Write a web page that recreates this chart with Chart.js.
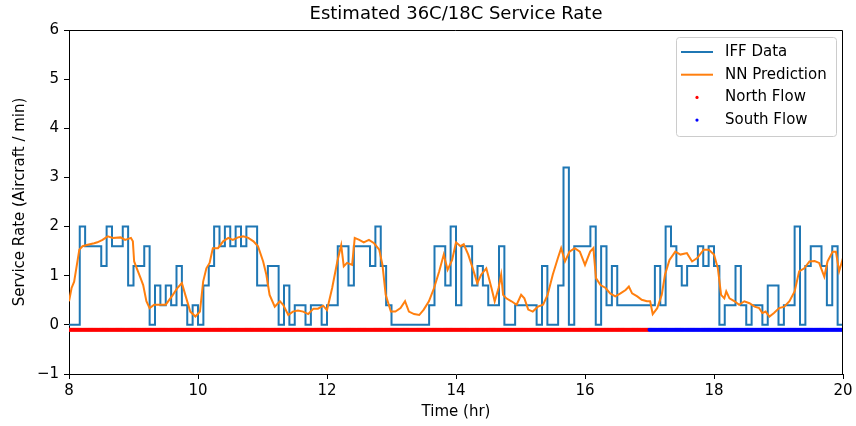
<!DOCTYPE html>
<html>
<head>
<meta charset="utf-8">
<script src="https://cdn.jsdelivr.net/npm/chart.js@4.4.1/dist/chart.umd.min.js"></script>
<style>
  html, body { margin: 0; padding: 0; background: #fff; }
</style>
</head>
<body>
<canvas id="chart" width="856" height="426"></canvas>
<script>
// IFF data: 5-minute bins, start minute after 08:00 and service rate held until the next bin
const iffMinutes = [0, 10, 15, 30, 35, 40, 50, 55, 60, 70, 75, 80, 85, 90, 95, 100, 105, 110, 115, 120,
  125, 130, 135, 140, 145, 150, 155, 160, 165, 175, 185, 195, 200, 205, 210, 220, 225, 235, 240, 250,
  260, 265, 280, 285, 290, 295, 300, 335, 340, 350, 355, 360, 365, 375, 380, 385, 390, 400, 405, 415,
  435, 440, 445, 455, 460, 465, 470, 485, 490, 495, 500, 505, 510, 545, 550, 555, 560, 565, 570, 575,
  585, 590, 595, 600, 605, 610, 620, 625, 630, 635, 645, 650, 660, 665, 675, 680, 685, 690, 700, 705,
  710, 715, 720];
const iffValues = [0, 2.0, 1.6, 1.2, 2.0, 1.6, 2.0, 0.8, 1.2, 1.6, 0, 0.8, 0.4, 0.8, 0.4, 1.2, 0.4, 0, 0.4, 0,
  0.8, 1.2, 2.0, 1.6, 2.0, 1.6, 2.0, 1.6, 2.0, 0.8, 1.2, 0, 0.8, 0, 0.4, 0, 0.4, 0, 0.4, 1.6,
  0.8, 1.6, 1.2, 2.0, 1.2, 0.4, 0, 0.4, 1.6, 0.8, 2.0, 0.4, 1.6, 0.8, 1.2, 0.8, 0.4, 1.6, 0, 0.4,
  0, 1.2, 0, 0.8, 3.2, 0, 1.6, 2.0, 0, 1.6, 0.4, 1.2, 0.4, 1.2, 0.4, 2.0, 1.6, 1.2, 0.8, 1.2,
  1.6, 1.2, 1.6, 1.2, 0, 0.4, 1.2, 0.4, 0, 0.4, 0, 0.8, 0, 0.4, 2.0, 0, 1.2, 1.6, 1.2, 0.4,
  1.6, 0, 0];

// NN prediction (hours, rate)
const nnHours = [8.00, 8.04, 8.08, 8.16, 8.21, 8.29, 8.39, 8.44, 8.52, 8.60, 8.68, 8.80, 8.87, 8.96, 8.99,
  9.01, 9.06, 9.11, 9.15, 9.20, 9.25, 9.32, 9.42, 9.50, 9.61, 9.68, 9.75, 9.81, 9.88, 9.96,
  10.03, 10.08, 10.13, 10.18, 10.23, 10.31, 10.39, 10.47, 10.54, 10.62, 10.70, 10.78, 10.86, 10.93,
  11.01, 11.06, 11.11, 11.19, 11.27, 11.32, 11.40, 11.47, 11.55, 11.63, 11.71, 11.79, 11.86, 11.94,
  12.00, 12.08, 12.16, 12.22, 12.26, 12.31, 12.39, 12.43, 12.50, 12.57, 12.65, 12.73, 12.81, 12.86, 12.91, 12.99,
  13.06, 13.14, 13.21, 13.27, 13.35, 13.43, 13.50, 13.58, 13.66, 13.74, 13.81, 13.87, 13.94,
  14.00, 14.07, 14.12, 14.19, 14.26, 14.33, 14.39, 14.47, 14.55, 14.60, 14.66, 14.70, 14.73, 14.78, 14.86, 14.94,
  15.01, 15.06, 15.12, 15.19, 15.27, 15.35, 15.42, 15.50, 15.58, 15.63, 15.69, 15.76, 15.84, 15.92,
  16.00, 16.08, 16.13, 16.17, 16.24, 16.32, 16.39, 16.47, 16.55, 16.63, 16.68, 16.73, 16.81, 16.88, 16.96,
  17.01, 17.05, 17.12, 17.19, 17.24, 17.31, 17.40, 17.48, 17.58, 17.66, 17.74, 17.84, 17.92,
  18.00, 18.06, 18.11, 18.16, 18.19, 18.24, 18.32, 18.39, 18.47, 18.55, 18.63, 18.70, 18.75, 18.80, 18.86, 18.93,
  19.01, 19.09, 19.17, 19.25, 19.32, 19.40, 19.48, 19.56, 19.63, 19.71, 19.76, 19.84, 19.89, 19.94, 20.00];
const nnValues = [0.48, 0.75, 0.88, 1.53, 1.60, 1.63, 1.66, 1.68, 1.73, 1.80, 1.77, 1.78, 1.73, 1.77, 1.70,
  1.29, 1.12, 0.95, 0.81, 0.48, 0.34, 0.41, 0.41, 0.41, 0.61, 0.75, 0.85, 0.58, 0.27, 0.17,
  0.27, 0.88, 1.15, 1.26, 1.56, 1.56, 1.70, 1.77, 1.73, 1.78, 1.80, 1.77, 1.70, 1.60,
  1.29, 1.02, 0.61, 0.37, 0.48, 0.41, 0.20, 0.27, 0.29, 0.27, 0.22, 0.33, 0.33, 0.39,
  0.30, 0.75, 1.29, 1.62, 1.19, 1.26, 1.22, 1.77, 1.73, 1.68, 1.73, 1.66, 1.53, 1.22, 0.61, 0.27,
  0.27, 0.34, 0.48, 0.27, 0.22, 0.20, 0.31, 0.48, 0.75, 1.09, 1.43, 1.12, 1.32,
  1.68, 1.60, 1.64, 1.43, 1.15, 0.85, 1.02, 1.15, 0.75, 0.48, 0.75, 1.02, 0.61, 0.54, 0.48, 0.41,
  0.61, 0.54, 0.31, 0.27, 0.37, 0.41, 0.61, 1.02, 1.36, 1.56, 1.29, 1.49, 1.56, 1.49,
  1.22, 1.49, 1.56, 0.95, 0.81, 0.75, 0.64, 0.58, 0.64, 0.71, 0.78, 0.64, 0.58, 0.51, 0.48,
  0.48, 0.22, 0.34, 0.61, 1.02, 1.32, 1.49, 1.43, 1.46, 1.29, 1.36, 1.53, 1.53,
  1.43, 1.15, 0.61, 0.54, 0.68, 0.54, 0.48, 0.41, 0.48, 0.44, 0.37, 0.34, 0.24, 0.27, 0.17, 0.24,
  0.34, 0.37, 0.48, 0.68, 1.09, 1.15, 1.29, 1.30, 1.26, 0.98, 1.29, 1.49, 1.49, 1.09, 1.36];

// runway flow: north until the switch, south after (one marker per minute)
const flowStartHour = 8;
const flowSwitchHour = 17;
const flowEndHour = 20;
const flowLevel = -0.1;

const xTicks = [8, 10, 12, 14, 16, 18, 20];
const yTicks = [-1, 0, 1, 2, 3, 4, 5, 6];

const FONT = "'DejaVu Sans', sans-serif";

const iffPoints = iffMinutes.map((m, i) => ({ x: 8 + m / 60, y: iffValues[i] }));
const nnPoints = nnHours.map((h, i) => ({ x: h, y: nnValues[i] }));
const northPoints = [], southPoints = [];
for (let m = 0; m <= (flowEndHour - flowStartHour) * 60; m++) {
  const h = flowStartHour + m / 60;
  if (h < flowSwitchHour) northPoints.push({ x: h, y: flowLevel });
  else southPoints.push({ x: h, y: flowLevel });
}

const legendItems = [
  { label: 'IFF Data', type: 'line', color: '#1f77b4' },
  { label: 'NN Prediction', type: 'line', color: '#ff7f0e' },
  { label: 'North Flow', type: 'dot', color: '#ff0000' },
  { label: 'South Flow', type: 'dot', color: '#0000ff' }
];

// top/right spines, titles and the matplotlib-style legend
const decorations = {
  id: 'decorations',
  afterDraw(chart) {
    const ctx = chart.ctx;
    const a = chart.chartArea;
    ctx.save();
    ctx.strokeStyle = '#000';
    ctx.lineWidth = 1;
    ctx.beginPath();
    ctx.moveTo(a.left, a.top + 0.5);
    ctx.lineTo(a.right - 0.5, a.top + 0.5);
    ctx.lineTo(a.right - 0.5, a.bottom);
    ctx.stroke();

    ctx.fillStyle = '#000';
    ctx.textAlign = 'center';
    ctx.textBaseline = 'middle';
    ctx.font = '18px ' + FONT;
    ctx.fillText('Estimated 36C/18C Service Rate', (a.left + a.right) / 2, 14);
    ctx.font = '15px ' + FONT;
    ctx.fillText('Time (hr)', (a.left + a.right) / 2, 412);
    ctx.save();
    ctx.translate(20, (a.top + a.bottom) / 2);
    ctx.rotate(-Math.PI / 2);
    ctx.fillText('Service Rate (Aircraft / min)', 0, 0);
    ctx.restore();

    // legend box
    const bx = 676.5, by = 37.5, bw = 160, bh = 99;
    ctx.beginPath();
    ctx.roundRect(bx, by, bw, bh, 3);
    ctx.fillStyle = 'rgba(255,255,255,0.8)';
    ctx.fill();
    ctx.strokeStyle = '#cccccc';
    ctx.stroke();
    ctx.font = '15px ' + FONT;
    ctx.textAlign = 'left';
    legendItems.forEach((it, i) => {
      const cy = 52 + i * 22.7;
      if (it.type === 'line') {
        ctx.strokeStyle = it.color;
        ctx.lineWidth = 2;
        ctx.beginPath();
        ctx.moveTo(681, cy);
        ctx.lineTo(713, cy);
        ctx.stroke();
      } else {
        ctx.fillStyle = it.color;
        ctx.beginPath();
        ctx.arc(697, cy, 1.6, 0, Math.PI * 2);
        ctx.fill();
      }
      ctx.fillStyle = '#000';
      ctx.fillText(it.label, 725, cy);
    });
    ctx.restore();
  }
};

new Chart(document.getElementById('chart'), {
  type: 'line',
  data: {
    datasets: [
      { label: 'IFF Data', data: iffPoints, stepped: true, borderColor: '#1f77b4', borderWidth: 2,
        pointRadius: 0, fill: false, order: 4 },
      { label: 'NN Prediction', data: nnPoints, borderColor: '#ff7f0e', borderWidth: 2,
        pointRadius: 0, tension: 0, fill: false, order: 3 },
      { label: 'North Flow', data: northPoints, showLine: false, pointRadius: 2,
        pointBackgroundColor: '#ff0000', pointBorderWidth: 0, order: 2 },
      { label: 'South Flow', data: southPoints, showLine: false, pointRadius: 2,
        pointBackgroundColor: '#0000ff', pointBorderWidth: 0, order: 1 }
    ]
  },
  options: {
    responsive: false,
    animation: false,
    layout: { padding: { top: 30, right: 13, left: 0, bottom: 0 } },
    plugins: {
      legend: { display: false },
      title: { display: false },
      tooltip: { enabled: false }
    },
    scales: {
      x: {
        type: 'linear',
        min: 8, max: 20,
        afterFit(scale) { scale.height = 52; },
        afterBuildTicks(scale) { scale.ticks = xTicks.map(v => ({ value: v })); },
        grid: { drawOnChartArea: false, drawTicks: true, tickLength: 5, color: '#000' },
        border: { display: true, color: '#000' },
        ticks: { color: '#000', font: { family: FONT, size: 15 }, padding: 3, maxRotation: 0 }
      },
      y: {
        type: 'linear',
        min: -1, max: 6,
        afterFit(scale) { scale.width = 69; },
        afterBuildTicks(scale) { scale.ticks = yTicks.map(v => ({ value: v })); },
        grid: { drawOnChartArea: false, drawTicks: true, tickLength: 5, color: '#000' },
        border: { display: true, color: '#000' },
        ticks: {
          color: '#000', font: { family: FONT, size: 15 }, padding: 5,
          callback: v => String(v).replace('-', '\u2212')
        }
      }
    }
  },
  plugins: [decorations]
});
</script>
</body>
</html>
